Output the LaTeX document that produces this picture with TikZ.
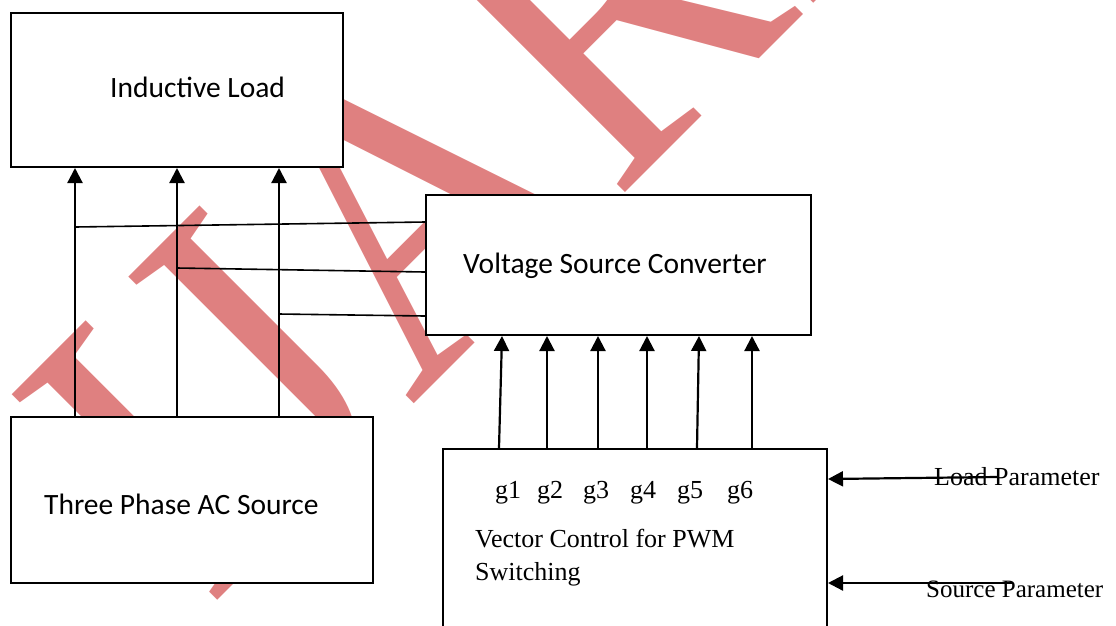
\documentclass[tikz,border=0pt]{standalone}
\usepackage{fontspec}
\setmainfont{Liberation Serif}
\newfontfamily\calfont{Carlito}
\newfontfamily\wmfont{Liberation Serif}
\usetikzlibrary{arrows.meta}
\definecolor{wmred}{RGB}{223,128,128}

\begin{document}
\begin{tikzpicture}[x=1pt,y=-1pt,
  block/.style={draw=black, line width=2pt, fill=white, inner sep=0pt},
  flow/.style={line width=2.2pt, -{Triangle[length=15pt,width=15pt]}},
  tie/.style={line width=1.6pt},
  calib/.style={font=\calfont\fontsize{29.5}{35}\selectfont, inner sep=0pt, anchor=base west},
  roman/.style={font=\fontsize{26}{31}\selectfont, inner sep=0pt, anchor=base west},
  watermark/.style={rotate=45, anchor=base west, inner sep=0pt, outer sep=0pt,
    text=wmred, font=\wmfont\fontsize{444}{444}\selectfont},
]
\useasboundingbox (0,0) rectangle (1116,625);
\begin{scope}
\clip (0,0) rectangle (1116,625);

% diagonal watermark behind everything
\node[watermark] (wm) at (207,610) {\scalebox{0.9}[1]{IJARIIE}};

% blocks
\node[block, minimum width=332pt, minimum height=154pt] (load) at (177,90) {};
\node[block, minimum width=362pt, minimum height=166pt] (ac) at (192,500) {};
\node[block, minimum width=385pt, minimum height=140pt] (vsc) at (618.5,265) {};
\node[block, minimum width=384pt, minimum height=191pt] (pwm) at (635,544.5) {};

% block captions
\node[calib] (loadtxt) at (110,97) {Inductive Load};
\node[calib] (actxt) at (44,514) {Three Phase AC Source};
\node[calib] (vsctxt) at (463,273) {Voltage Source Converter};
\node[roman] (g1) at (495,498) {g1};
\node[roman] (g2) at (537,498) {g2};
\node[roman] (g3) at (583,498) {g3};
\node[roman] (g4) at (630,498) {g4};
\node[roman] (g5) at (677,498) {g5};
\node[roman] (g6) at (727,498) {g6};
\node[roman] (pwmtxt1) at (475,547) {Vector Control for PWM};
\node[roman] (pwmtxt2) at (475,580) {Switching};
\node[roman] (loadpar) at (934,485) {Load Parameter};
\node[roman, font=\fontsize{25}{30}\selectfont] (srcpar) at (926,597) {Source Parameter};

% phase lines from the source up to the load
\coordinate (pa) at (75,0);
\coordinate (pb) at (177,0);
\coordinate (pc) at (279,0);
\draw[flow] (ac.north -| pa) -- (load.south -| pa);
\draw[flow] (ac.north -| pb) -- (load.south -| pb);
\draw[flow] (ac.north -| pc) -- (load.south -| pc);

% taps from the phase lines into the converter
\coordinate (ja) at (75,227);
\coordinate (jb) at (177,268);
\coordinate (jc) at (279,314);
\coordinate (ka) at (0,222);
\coordinate (kb) at (0,272);
\coordinate (kc) at (0,316);
\draw[tie] (ja) -- (vsc.west |- ka);
\draw[tie] (jb) -- (vsc.west |- kb);
\draw[tie] (jc) -- (vsc.west |- kc);

% gate signals g1..g6
\foreach \i/\xb/\xt in {1/499/502, 2/547/547, 3/598/598, 4/647/647, 5/697/699, 6/752/752}{
  \coordinate (b\i) at (\xb,0);
  \coordinate (t\i) at (\xt,0);
  \draw[flow] (pwm.north -| b\i) -- (vsc.south -| t\i);
}

% parameter inputs
\coordinate (lpin) at (997,477);
\coordinate (lpend) at (0,479);
\coordinate (spin) at (1013,583);
\coordinate (spend) at (0,583);
\draw[flow] (lpin) -- (pwm.east |- lpend);
\draw[flow] (spin) -- (pwm.east |- spend);
\end{scope}
\end{tikzpicture}
\end{document}
